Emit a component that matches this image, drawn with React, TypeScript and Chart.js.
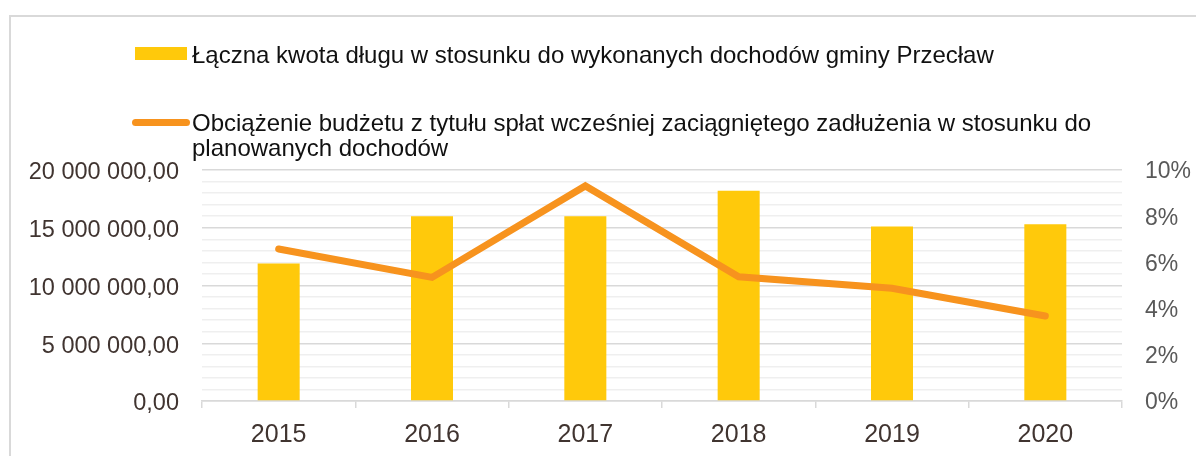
import React, { useEffect, useRef } from "react";
import { Chart, registerables } from "chart.js";

Chart.register(...registerables);

const years = ["2015", "2016", "2017", "2018", "2019", "2020"];
const debtTotal = [11900000, 16000000, 16000000, 18200000, 15100000, 15300000];
const burdenShare = [0.0658, 0.0535, 0.0931, 0.0538, 0.0488, 0.0368];
const debtLabel = "Łączna kwota długu w stosunku do wykonanych dochodów gminy Przecław";
const burdenLabelLines = [
  "Obciążenie budżetu z tytułu spłat wcześniej zaciągniętego zadłużenia w stosunku do",
  "planowanych dochodów",
];

const BAR_COLOR = "#FFC90B";
const LINE_COLOR = "#F7931E";
const FONT = "'Liberation Sans', Arial, sans-serif";

function formatPln(v: number): string {
  const s = Math.round(v).toString().replace(/\B(?=(\d{3})+(?!\d))/g, " ");
  return s + ",00";
}

export default function App() {
  const ref = useRef<HTMLCanvasElement | null>(null);

  useEffect(() => {
    if (!ref.current) return;
    const chart = new Chart(ref.current, {
      type: "bar",
      data: {
        labels: years,
        datasets: [
          {
            type: "line",
            label: burdenLabelLines.join(" "),
            data: burdenShare,
            yAxisID: "y1",
            borderColor: LINE_COLOR,
            backgroundColor: LINE_COLOR,
            borderWidth: 7,
            borderCapStyle: "round",
            pointRadius: 0,
            tension: 0,
            order: 0,
          } as any,
          {
            type: "bar",
            label: debtLabel,
            data: debtTotal,
            yAxisID: "y",
            backgroundColor: BAR_COLOR,
            barPercentage: 0.274,
            categoryPercentage: 1,
            order: 1,
          },
        ],
      },
      options: {
        responsive: false,
        animation: false,
        layout: { padding: { top: 170, left: 0, right: 0, bottom: 0 } },
        plugins: { legend: { display: false }, tooltip: { enabled: false } },
        scales: {
          x: {
            grid: {
              offset: true,
              drawOnChartArea: false,
              drawTicks: true,
              tickLength: 7,
              color: "#d9d9d9",
              lineWidth: 1.5,
            },
            border: { display: true, color: "#d9d9d9", width: 1.5 },
            ticks: {
              font: { family: FONT, size: 25 },
              color: "#403430",
              padding: 12,
            },
            afterFit: (s: any) => {
              s.height = 55;
            },
          },
          y: {
            position: "left",
            min: 0,
            max: 20000000,
            ticks: {
              stepSize: 1000000,
              autoSkip: false,
              font: { family: FONT, size: 23.5 },
              color: "#403430",
              padding: 23,
              labelOffset: 3,
              callback: (v: any) => (Number(v) % 5000000 === 0 ? formatPln(Number(v)) : ""),
            },
            grid: {
              drawTicks: false,
              color: (ctx: any) =>
                ctx.tick && ctx.tick.value % 5000000 === 0 ? "#d9d9d9" : "#efefef",
              lineWidth: 1.5,
            },
            border: { display: false },
            afterFit: (s: any) => {
              s.width = 202;
            },
          },
          y1: {
            position: "right",
            min: 0,
            max: 0.1,
            ticks: {
              stepSize: 0.02,
              font: { family: FONT, size: 23 },
              color: "#595959",
              padding: 23,
              labelOffset: 2,
              callback: (v: any) => Math.round(Number(v) * 100) + "%",
            },
            grid: { drawOnChartArea: false, drawTicks: false },
            border: { display: false },
            afterFit: (s: any) => {
              s.width = 74;
            },
          },
        },
      },
    });
    return () => chart.destroy();
  }, []);

  const textStyle: React.CSSProperties = {
    position: "absolute",
    fontFamily: FONT,
    fontSize: 24,
    lineHeight: "25px",
    color: "#111",
    whiteSpace: "nowrap",
  };

  return (
    <div
      style={{
        position: "fixed",
        left: 0,
        top: 0,
        width: 1196,
        height: 456,
        background: "#fff",
        overflow: "hidden",
      }}
    >
      <div
        style={{
          position: "absolute",
          left: 9,
          top: 15,
          width: 1300,
          height: 600,
          border: "2px solid #d9d9d9",
          boxSizing: "border-box",
        }}
      />
      <canvas
        ref={ref}
        width={1196}
        height={456}
        style={{ position: "absolute", left: 0, top: 0, width: 1196, height: 456 }}
      />
      <div
        style={{
          position: "absolute",
          left: 135,
          top: 47,
          width: 52,
          height: 13,
          background: BAR_COLOR,
        }}
      />
      <div style={{ ...textStyle, left: 192, top: 42 }}>{debtLabel}</div>
      <div
        style={{
          position: "absolute",
          left: 132,
          top: 119,
          width: 58,
          height: 7,
          borderRadius: 4,
          background: LINE_COLOR,
        }}
      />
      <div style={{ ...textStyle, left: 192, top: 110 }}>
        {burdenLabelLines[0]}
        <br />
        {burdenLabelLines[1]}
      </div>
    </div>
  );
}
